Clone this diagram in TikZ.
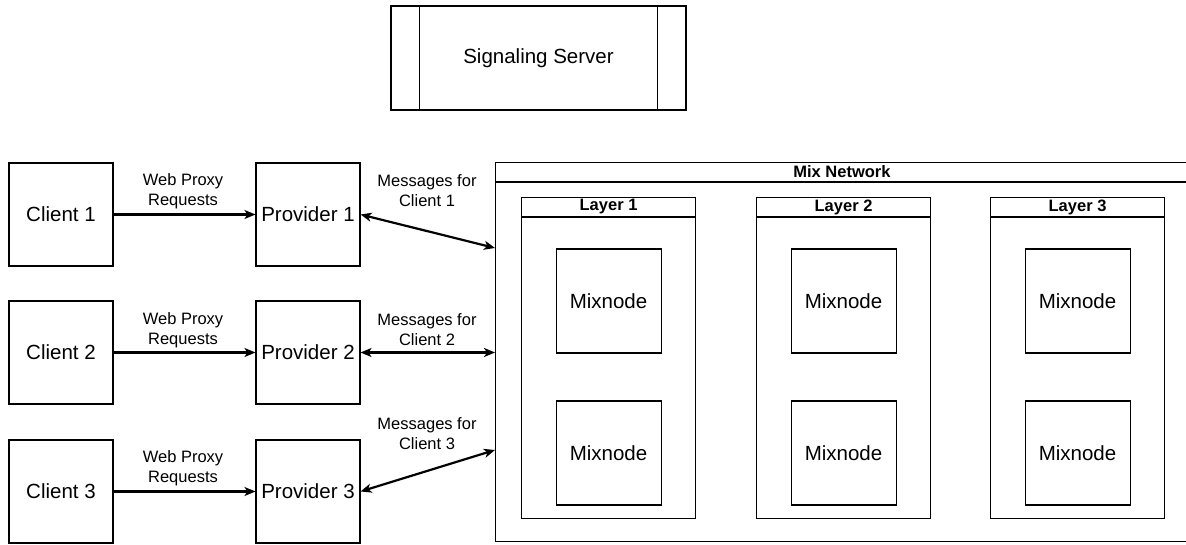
\documentclass[tikz,border=0pt]{standalone}
\usepackage{fontspec}
\setmainfont{Liberation Sans}
\usetikzlibrary{arrows.meta}
\begin{document}
\begin{tikzpicture}[x=1pt,y=-1pt,
  >={Stealth[length=11pt,width=9pt,inset=3pt]},
  box/.style={draw, line width=1.1pt, inner sep=0pt, font=\fontsize{20.5}{24}\selectfont},
  unit/.style={box, minimum width=104pt, minimum height=103pt},
  mixbox/.style={box, minimum width=105pt, minimum height=104pt},
  layerbox/.style={draw, line width=1.1pt, inner sep=0pt, anchor=north west,
                   minimum width=174pt, minimum height=321pt},
  lbl/.style={font=\fontsize{16.5}{20}\selectfont, align=center, inner sep=0pt},
  hdr/.style={font=\bfseries\fontsize{16.5}{20}\selectfont, inner sep=0pt},
  link/.style={line width=2.2pt, ->},
  dlink/.style={line width=2.2pt, <->}]
\useasboundingbox (0,0) rectangle (1186,545);

% signaling server with its two side bars
\node[box, minimum width=295pt, minimum height=104pt] (ss) at (538.5,58) {Signaling Server};
\draw[line width=1.1pt] ([xshift=29pt]ss.north west) -- ([xshift=29pt]ss.south west);
\draw[line width=1.1pt] ([xshift=-29pt]ss.north east) -- ([xshift=-29pt]ss.south east);

% clients and providers
\node[unit] (c1) at (61,214.5) {Client 1};
\node[unit] (c2) at (61,352.5) {Client 2};
\node[unit] (c3) at (61,491.5) {Client 3};
\node[unit] (p1) at (308,214.5) {Provider 1};
\node[unit] (p2) at (308,352.5) {Provider 2};
\node[unit] (p3) at (308,491.5) {Provider 3};

% mix network container
\node[draw, line width=1.1pt, inner sep=0pt, anchor=north west,
      minimum width=705pt, minimum height=379pt] (mix) at (495,162) {};
\draw[line width=1.1pt] ([yshift=-20pt]mix.north west) -- ([yshift=-20pt]mix.north east);
\node[hdr] (mixt) at (842,172) {Mix Network};

% layers
\foreach \i/\x in {1/521,2/756,3/990}{
  \node[layerbox] (l\i) at (\x,197) {};
  \draw[line width=1.1pt] ([yshift=-20pt]l\i.north west) -- ([yshift=-20pt]l\i.north east);
  \node[hdr] (l\i t) at ([yshift=-10pt]l\i.north) {Layer \i};
  \node[mixbox] (m\i a) at ([yshift=-104pt]l\i.north) {Mixnode};
  \node[mixbox] (m\i b) at ([yshift=-256pt]l\i.north) {Mixnode};
}

% attachment points on the mix network border
\coordinate (e1) at (495,248);
\coordinate (e2) at (495,352.5);
\coordinate (e3) at (495,450);

% connectors
\draw[link] (c1) -- (p1);
\draw[link] (c2) -- (p2);
\draw[link] (c3) -- (p3);
\draw[dlink] (p1.east) -- (e1);
\draw[dlink] (p2.east) -- (e2);
\draw[dlink] (p3.east) -- (e3);

% connector labels
\node[lbl] (w1) at (183,191) {Web Proxy\\Requests};
\node[lbl] (w2) at (183,330) {Web Proxy\\Requests};
\node[lbl] (w3) at (183,468) {Web Proxy\\Requests};
\node[lbl] (g1) at (427,191) {Messages for\\Client 1};
\node[lbl] (g2) at (427,330) {Messages for\\Client 2};
\node[lbl] (g3) at (427,434) {Messages for\\Client 3};
\end{tikzpicture}
\end{document}
